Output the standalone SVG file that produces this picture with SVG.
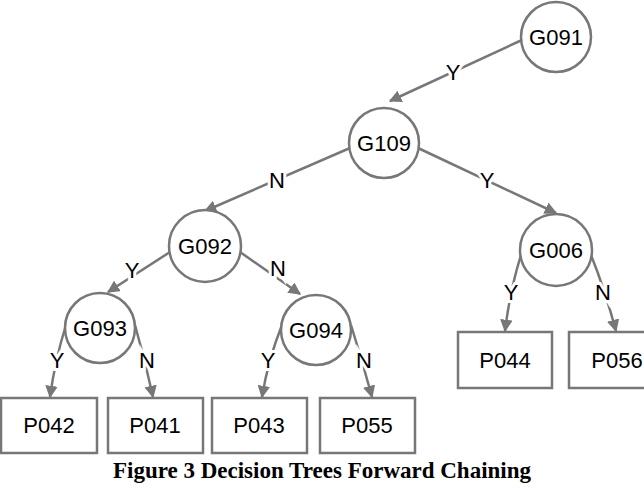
<svg xmlns="http://www.w3.org/2000/svg" width="644" height="488" viewBox="0 0 644 488">
<style>
.n circle,.n rect{fill:#fff;stroke:#777;stroke-width:2.5}
.n text,.l{font-family:"Liberation Sans",Arial,sans-serif;font-size:22px;fill:#000;text-anchor:middle;dominant-baseline:central}
#edges path{fill:none;stroke:#777;stroke-width:2.5;marker-end:url(#a)}
.l{stroke:#fff;stroke-width:6;paint-order:stroke}
</style>
<defs><marker id="a" viewBox="0 0 10 10" refX="9" refY="5" markerWidth="5" markerHeight="5" orient="auto" markerUnits="strokeWidth"><path d="M0,0L10,5L0,10z" fill="#777"/></marker></defs>
<rect width="644" height="488" fill="#fff"/>
<g id="edges">
<path d="M522,40L390,101"/>
<path d="M350,148L205,211"/>
<path d="M418,148L556,213"/>
<path d="M170,252L108,292"/>
<path d="M240,252L300,294"/>
<path d="M521,255Q510,290 505,331"/>
<path d="M591,255Q605,290 616,331"/>
<path d="M66,325Q55,360 50,397"/>
<path d="M135,325Q145,360 153,397"/>
<path d="M282,325Q268,360 262,397"/>
<path d="M351,325Q362,360 372,397"/>
<text class="l" x="453" y="72">Y</text>
<text class="l" x="277" y="180">N</text>
<text class="l" x="487" y="180">Y</text>
<text class="l" x="132" y="270">Y</text>
<text class="l" x="278" y="268">N</text>
<text class="l" x="511" y="292">Y</text>
<text class="l" x="603" y="292">N</text>
<text class="l" x="57" y="360">Y</text>
<text class="l" x="147" y="360">N</text>
<text class="l" x="268" y="360">Y</text>
<text class="l" x="364" y="360">N</text>
</g>
<g id="G091" class="n"><circle cx="556" cy="37" r="35"/><text x="556" y="37">G091</text></g>
<g id="G109" class="n"><circle cx="384" cy="143" r="35"/><text x="384" y="143">G109</text></g>
<g id="G092" class="n"><circle cx="205" cy="246" r="36"/><text x="205" y="246">G092</text></g>
<g id="G006" class="n"><circle cx="556" cy="250" r="36"/><text x="556" y="250">G006</text></g>
<g id="G093" class="n"><circle cx="100" cy="328" r="35"/><text x="100" y="328">G093</text></g>
<g id="G094" class="n"><circle cx="316" cy="330" r="35"/><text x="316" y="330">G094</text></g>
<g id="P042" class="n"><rect x="1" y="398" width="96" height="55"/><text x="49" y="425">P042</text></g>
<g id="P041" class="n"><rect x="108" y="398" width="95" height="55"/><text x="155" y="425">P041</text></g>
<g id="P043" class="n"><rect x="212" y="398" width="95" height="55"/><text x="259" y="425">P043</text></g>
<g id="P055" class="n"><rect x="320" y="398" width="95" height="55"/><text x="367" y="425">P055</text></g>
<g id="P044" class="n"><rect x="458" y="332" width="94" height="56"/><text x="505" y="360">P044</text></g>
<g id="P056" class="n"><rect x="569" y="332" width="80" height="56"/><text x="617" y="360">P056</text></g>
<text x="322" y="478" font-family="'Liberation Serif','Times New Roman',serif" font-weight="bold" font-size="23" text-anchor="middle">Figure 3 Decision Trees Forward Chaining</text>
</svg>
